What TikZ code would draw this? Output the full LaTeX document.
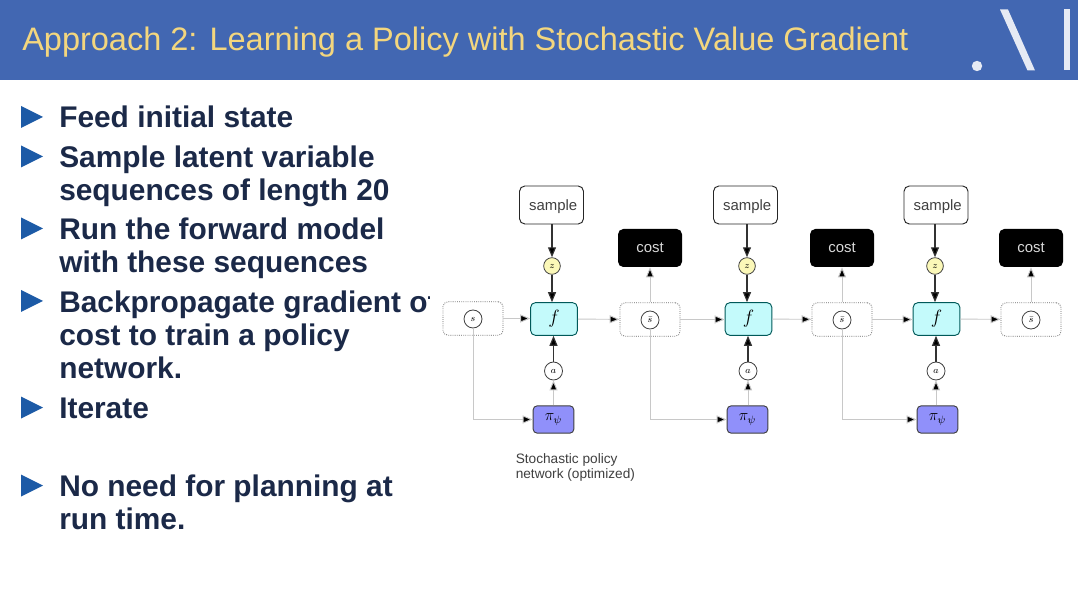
\documentclass[tikz,border=0pt]{standalone}
\usepackage{fontspec}
\setmainfont{Liberation Sans}
\usetikzlibrary{arrows.meta,calc}
\definecolor{hdr}{HTML}{4267B2}
\definecolor{ttl}{HTML}{F3D67E}
\definecolor{body}{HTML}{1B2948}
\definecolor{bul}{HTML}{1C5AA6}
\definecolor{fcol}{HTML}{C4FAFB}
\definecolor{pcol}{HTML}{9090FA}
\definecolor{zcol}{HTML}{FBF8B8}
\definecolor{glin}{HTML}{C8C8C8}
\definecolor{logo}{HTML}{E6EAF4}
\tikzset{
 x=0.75pt,y=-0.75pt,
 strong/.style={draw=black!80,line width=0.85pt,-{Triangle[length=7.5pt,width=6pt,fill=black]}},
 faint/.style={draw=glin,line width=0.7pt,-{Triangle[length=7.5pt,width=6pt,fill=black]}},
 bodytext/.style={anchor=base west,inner sep=0pt,text=body,font=\fontsize{22.4pt}{26pt}\selectfont\bfseries},
 bullet/.style={fill=bul,draw=none},
 samplebox/.style={draw=black!85,line width=0.7pt,rounded corners=4pt,fill=white,text=black!75,font=\fontsize{11.2pt}{13pt}\selectfont},
 costbox/.style={fill=black,rounded corners=4pt,text=black!15,font=\fontsize{11.2pt}{13pt}\selectfont},
 fbox/.style={draw=teal!70!black,line width=0.7pt,fill=fcol,rounded corners=3.5pt},
 pibox/.style={draw=black!75,line width=0.7pt,fill=pcol,rounded corners=3pt},
 statebox/.style={draw=black!60,densely dotted,line width=0.6pt,rounded corners=3.5pt,fill=white},
 circ/.style={circle,draw=black!75,line width=0.6pt,fill=white,inner sep=0pt,minimum size=13.5pt,font=\fontsize{7.5pt}{8pt}\selectfont},
 zcirc/.style={circ,fill=zcol,minimum size=12.5pt},
}
\begin{document}
\begin{tikzpicture}
\useasboundingbox (0,0) rectangle (1080,605);
\fill[white] (0,0) rectangle (1080,605);
\fill[hdr] (0,0) rectangle (1078,80.5);
\node[anchor=base west,inner sep=0pt,text=ttl,font=\fontsize{24.38pt}{28pt}\selectfont] (title) at (22,50.5) {Approach 2: Learning a Policy with Stochastic Value Gradient};
% logo
\fill[logo] (977,66) circle (5.2);
\fill[logo] (1000,9.5) -- (1008,9.5) -- (1035,70.5) -- (1027.5,70.5) -- cycle;
\fill[logo] (1064,9.5) rectangle (1070,70.5);
% bullets text
\foreach \n/\yy/\t in {a/127.7/Feed initial state,b/167.5/Sample latent variable,c/200.7/sequences of length 20,d/239.2/Run the forward model,e/272.7/with these sequences,f/312.2/Backpropagate gradient of,g/345.7/cost to train a policy,h/378.7/network.,i/418.2/Iterate,j/496.2/No need for planning at,k/529.7/run time.}{
 \node[bodytext] (t\n) at (59,\yy) {\t};
}
\foreach \yy in {117,156.5,228.5,301,407.5,485.5}{
 \fill[bullet] (21,\yy-11) -- (43,\yy) -- (21,\yy+11) -- cycle;
}
% the diagram image covers the end of the long line
\fill[white] (429.5,180) rectangle (1080,490);
% diagram nodes
\foreach \k/\sx/\zx/\fx/\ax/\px in {1/551.5/552/554/553.5/553.5,2/745.5/747/748.5/748/747.5,3/936/935/936.5/936/937.5}{
 \node[samplebox,minimum width=48pt,minimum height=28.5pt,inner sep=0pt] (sample\k) at (\sx,205) {\hspace*{2.5pt}\rule{0pt}{10.5pt}sample};
 \node[zcirc] (z\k) at (\zx,266) {$z$};
 \node[fbox,minimum width=35pt,minimum height=24.5pt,inner sep=0pt,font=\fontsize{14pt}{15pt}\selectfont] (f\k) at (\fx,319) {$f$};
 \node[circ] (act\k) at (\ax,371) {$a$};
 \node[pibox,minimum width=30.5pt,minimum height=20.5pt,inner sep=0pt,font=\fontsize{12pt}{13pt}\selectfont] (pi\k) at (\px,419.5) {$\pi_\psi$};
}
\node[statebox,minimum width=45pt,minimum height=25pt,inner sep=0pt] (sb) at (473,318.5) {};
\node[circ] (s0) at (473,319) {$s$};
\foreach \k/\bx/\cx in {1/650/650,2/842/842,3/1031/1031}{
 \node[costbox,minimum width=48pt,minimum height=28.5pt,inner sep=0pt] (cost\k) at (\cx,248) {cost};
 \node[statebox,minimum width=45pt,minimum height=25pt,inner sep=0pt] (hb\k) at (\bx,319.5) {};
 \node[circ] (hs\k) at (\bx,320) {$\bar{s}$};
}
\node[anchor=north west,align=left,inner sep=0pt,text=black!75,font=\fontsize{10.25pt}{11.4pt}\selectfont] (cap) at (515.5,453.5) {Stochastic policy\\network (optimized)};
% connectors
\foreach \k in {1,2,3}{
 \draw[strong] (z\k |- sample\k.south) -- (z\k);
 \draw[strong] (z\k) -- (z\k |- f\k.north);
 \draw[strong] (act\k) -- (act\k |- f\k.south);
 \draw[faint] (act\k |- pi\k.north) -- (act\k);
 \draw[faint] (f\k) -- (hb\k);
 \draw[faint] (hb\k) -- (cost\k);
}
\draw[faint] (sb) -- (sb -| f1.west);
\draw[faint] (hb1) -- (hb1 -| f2.west);
\draw[faint] (hb2) -- (hb2 -| f3.west);
\draw[faint] (s0) |- (pi1);
\draw[faint] (hs1) |- (pi2);
\draw[faint] (hs2) |- (pi3);
\end{tikzpicture}
\end{document}
